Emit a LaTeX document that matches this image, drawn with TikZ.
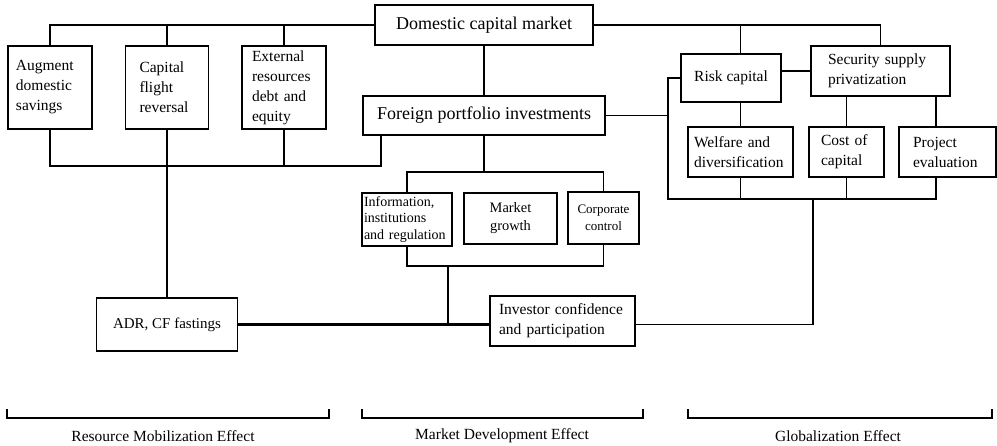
\documentclass[tikz,border=0pt]{standalone}
\usepackage{fontspec}
\setmainfont{Liberation Serif}
\newcommand{\fs}[2]{\fontsize{#1pt}{#2pt}\selectfont}
\begin{document}
\begin{tikzpicture}[x=1pt, y=-1pt, line width=1.1pt, line join=miter,
    box/.style={draw, inner ysep=0pt, align=left, font=\fs{15.5}{20},
        execute at begin node={\hyphenpenalty=10000\exhyphenpenalty=10000}},
    cbox/.style={draw, inner sep=0pt, align=center, font=\fs{15.5}{20}},
    heavy/.style={line width=2.3pt},
    lbl/.style={font=\fs{15.5}{20}}]
    \useasboundingbox (0,0) rectangle (997,445);

    % top row
    \node[cbox, minimum width=218pt, minimum height=40pt, font=\fs{18}{22}] (dcm) at (484,25) {Domestic capital market};
    \node[cbox, minimum width=242pt, minimum height=39pt, font=\fs{18}{22}] (fpi) at (484,115.5) {Foreign portfolio investments};

    % resource mobilization
    \node[box, text width=68pt, inner xsep=8pt, minimum height=83pt] (ads) at (50,87.5) {Augment\\domestic\\savings};
    \node[box, text width=55pt, inner xsep=14pt, minimum height=83pt] (cfr) at (167,87.5) {Capital\\flight\\reversal};
    \node[box, text width=64pt, inner xsep=10pt, minimum height=83pt] (erd) at (284,87.5) {External\\resources\\debt and\\equity};
    \node[cbox, minimum width=141pt, minimum height=53pt, font=\fs{15}{19}] (adr) at (167,324.5) {ADR, CF fastings};

    % market development
    \node[box, text width=86pt, inner xsep=2pt, minimum height=53pt, font=\fs{14}{16.7}] (iir) at (407,219.5) {Information,\\institutions\\and~regulation};
    \node[cbox, minimum width=93pt, minimum height=51pt, font=\fs{14.4}{18}] (mg) at (510.5,218.5) {Market\\growth};
    \node[cbox, minimum width=71pt, minimum height=52pt, font=\fs{13}{16.7}] (cc) at (603.5,218) {Corporate\\control};
    \node[box, text width=127pt, inner xsep=9pt, minimum height=50pt] (icp) at (562.5,321) {Investor confidence\\and participation};

    % globalization
    \node[cbox, minimum width=100pt, minimum height=48pt] (rc) at (731,78) {Risk capital};
    \node[box, text width=105pt, inner xsep=17pt, minimum height=50pt] (ssp) at (880.5,71) {Security supply\\privatization};
    \node[box, text width=93pt, inner xsep=6pt, minimum height=50pt] (wd) at (740.5,152) {Welfare and\\diversification};
    \node[box, text width=51pt, inner xsep=12pt, minimum height=50pt] (coc) at (846.5,152) {Cost of\\capital};
    \node[box, text width=69pt, inner xsep=14pt, minimum height=50pt] (pe) at (947.5,152) {Project\\evaluation};

    \coordinate (lbus) at (381,166);
    \coordinate (mtop) at (484,172);
    \coordinate (mbot) at (448,266);
    \coordinate (gcorner) at (668,199);
    \coordinate (gright) at (936,199);
    \coordinate (gbot) at (813,199);

    % top bus
    \draw (ads.north) |- (dcm.west);
    \draw (cfr.north) -- (cfr.north |- dcm.west);
    \draw (erd.north) -- (erd.north |- dcm.west);
    \draw (dcm.east) -| (ssp.north);
    \draw (wd.north |- rc.north) -- (wd.north |- dcm.east);
    \draw (dcm.south) -- (fpi.north);

    % left bus
    \draw (ads.south) |- (lbus) -- (lbus |- fpi.south);
    \draw (cfr.south) -- (adr.north);
    \draw (erd.south) -- (erd.south |- lbus);

    % middle bracket
    \draw (fpi.south) -- (mtop);
    \draw (iir.north) |- (mtop) -| (cc.north);
    \draw (iir.south) |- (mbot) -| (cc.south);
    \draw[heavy] (mbot) -- (mbot |- adr.east);
    \draw[heavy] (adr.east) -- (adr.east -| icp.west);

    % right bracket
    \draw (fpi.east) -- (fpi.east -| gcorner);
    \draw (rc.west) -| (gcorner) -- (gright) -- (gright |- pe.south);
    \draw (rc.east |- ssp.west) -- (ssp.west);
    \draw (wd.north) -- (wd.north |- rc.south);
    \draw (coc.north) -- (coc.north |- ssp.south);
    \draw (gright |- pe.north) -- (gright |- ssp.south);
    \draw (wd.south) -- (wd.south |- gcorner);
    \draw (coc.south) -- (coc.south |- gcorner);
    \draw[heavy] (wd.south |- gcorner) -- (gright);
    \draw[heavy] (gbot) -- (gbot |- adr.east);
    \draw (adr.east -| icp.east) -- (gbot |- adr.east);

    % effects
    \foreach \l/\r in {7/329, 362/643, 688/992}
        \draw (\l,409) |- (\r,418) -- (\r,409);
    \node[lbl] (rme) at (163,436) {Resource Mobilization Effect};
    \node[lbl] (mde) at (502,436) {Market Development Effect};
    \node[lbl] (gle) at (838,436) {Globalization Effect};
\end{tikzpicture}
\end{document}
